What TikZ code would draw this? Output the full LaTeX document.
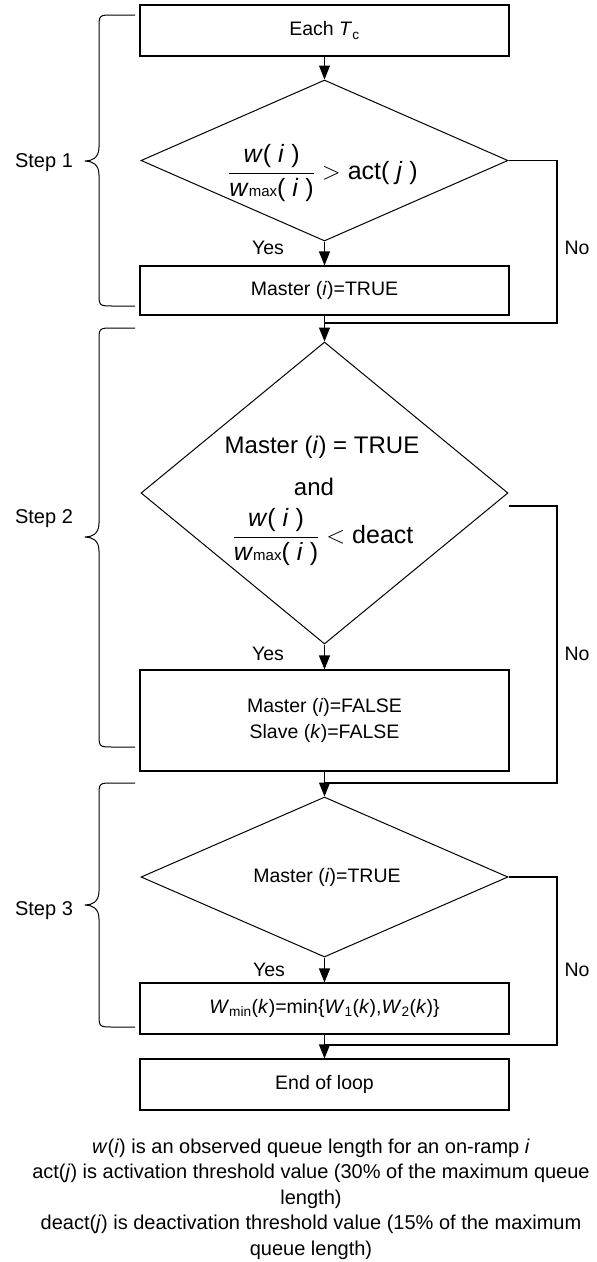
\documentclass[tikz,border=0pt]{standalone}
\usepackage{fontspec}
\setmainfont{Liberation Sans}
\usetikzlibrary{arrows.meta,shapes.geometric,calc}
\newcommand\stepbrace[3]{%
  \draw[bracestyle] (135,#1) -- (113,#1) .. controls (99,#1) .. (99,#1+14)
    -- (99,#2-14) .. controls (99,#2-3) and (92,#2) .. (85,#2)
    .. controls (92,#2) and (99,#2+3) .. (99,#2+14)
    -- (99,#3-14) .. controls (99,#3) .. (113,#3) -- (135,#3);}
\newcommand\wratio{\displaystyle\frac{\mbox{\textit{w}( \textit{i} )}}{\mbox{\textit{w}{\fontsize{15}{15}\selectfont max}( \textit{i} )}}}
\begin{document}
\begin{tikzpicture}[x=1pt,y=-1pt,
  base/.style={font=\fontsize{19.5}{25.5}\selectfont},
  procbox/.style={draw, line width=1.1pt, minimum width=369pt, minimum height=51pt, inner sep=0pt, align=center, base},
  decision/.style={draw, diamond, line width=1pt, minimum width=367pt, inner sep=0pt},
  conn/.style={line width=1.1pt},
  arr/.style={conn, -{Triangle[length=14pt,width=11pt]}},
  bracestyle/.style={line width=1pt, line join=round},
  lbl/.style={base, inner sep=0pt},
  steplbl/.style={font=\fontsize{20}{24}\selectfont, inner sep=0pt},
  big/.style={font=\fontsize{24}{28}\selectfont, inner sep=0pt},
  formula/.style={font=\fontsize{25}{30}\selectfont, inner sep=0pt},
]
\useasboundingbox (0,0) rectangle (597,1262);

% boxes and decisions
\node[procbox] (b1) at (324.5,30.5) {Each \textit{T}\textsubscript{c}};
\node[decision, minimum height=161pt] (d1) at (324.5,160.5) {};
\node[formula] (t1) at (323,173) {$\wratio > \mbox{act( \textit{j} )}$};
\node[procbox, minimum height=49pt] (b2) at (324.5,290.5) {Master (\textit{i})=TRUE};
\node[decision, minimum height=302pt] (d2) at (324.5,493) {};
\node[big] (t2a) at (322,447) {Master (\textit{i}) = TRUE};
\node[big] (t2b) at (314,487) {and};
\node[formula] (t2c) at (323,537) {$\wratio < \mbox{deact}$};
\node[procbox, minimum height=101pt] (b3) at (324.5,720.5) {Master (\textit{i})=FALSE\\Slave (\textit{k})=FALSE};
\node[decision, minimum height=160pt] (d3) at (324.5,877) {};
\node[lbl] (t3) at (327,877) {Master (\textit{i})=TRUE};
\node[procbox] (b4) at (324.5,1008.5) {\textit{W}\textsubscript{min}(\textit{k})=min\{\textit{W}\textsubscript{1}(\textit{k}),\textit{W}\textsubscript{2}(\textit{k})\}};
\node[procbox] (b5) at (324.5,1084.5) {End of loop};

% merge points
\coordinate (m1) at (324.5,323);
\coordinate (r1) at (557,323);
\coordinate (n2) at (509,506);
\coordinate (m2) at (324.5,783);
\coordinate (r2) at (557,783);
\coordinate (m3) at (324.5,1045);
\coordinate (r3) at (557,1045);

% main flow
\draw[arr] (b1.south) -- (d1.north);
\draw[arr] (d1.south) -- (b2.north);
\draw[arr] (b2.south) -- (d2.north);
\draw[arr] (d2.south) -- (b3.north);
\draw[arr] (b3.south) -- (d3.north);
\draw[arr] (d3.south) -- (b4.north);
\draw[arr] (b4.south) -- (b5.north);

% No branches
\draw[conn] (d1.east) -| (r1) -- (m1);
\draw[conn] (n2) -| (r2) -- (m2);
\draw[conn] (d3.east) -| (r3) -- (m3);

% Yes / No labels
\node[lbl] (y1) at (268,248) {Yes};
\node[lbl] (y2) at (268,654) {Yes};
\node[lbl] (y3) at (269,970) {Yes};
\node[lbl] (no1) at (577,248) {No};
\node[lbl] (no2) at (577,654) {No};
\node[lbl] (no3) at (577,970) {No};

% steps
\stepbrace{15}{161}{306}
\stepbrace{328}{537}{747}
\stepbrace{783}{905}{1027}
\node[steplbl] (s1) at (44,163) {Step 1};
\node[steplbl] (s2) at (44,519) {Step 2};
\node[steplbl] (s3) at (44,911) {Step 3};

% notes
\node[font=\fontsize{20}{25.5}\selectfont, align=center, inner sep=0pt] (notes) at (311,1199)
 {\textit{w}(\textit{i}) is an observed queue length for an on-ramp \textit{i}\\
  act(\textit{j}) is activation threshold value (30\% of the maximum queue\\
  length)\\
  deact(\textit{j}) is deactivation threshold value (15\% of the maximum\\
  queue length)};
\end{tikzpicture}
\end{document}
